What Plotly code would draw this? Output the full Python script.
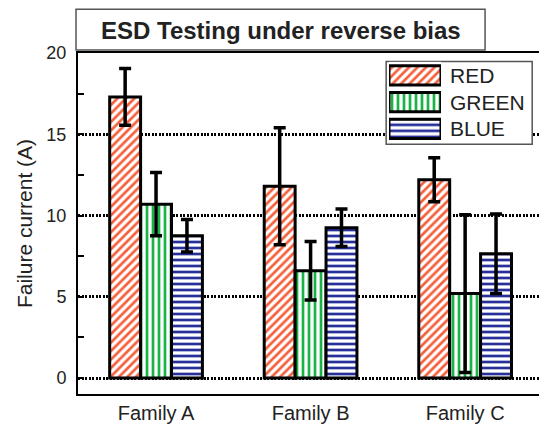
import plotly.graph_objects as go

# Failure current (A) under reverse-bias ESD stress, per LED family and colour
families = ["Family A", "Family B", "Family C"]
series = ["RED", "GREEN", "BLUE"]
red_mean = [17.3, 11.8, 12.2]
red_err = [1.75, 3.6, 1.35]
green_mean = [10.7, 6.6, 5.2]
green_err = [1.95, 1.8, 4.85]
blue_mean = [8.75, 9.25, 7.65]
blue_err = [1.0, 1.15, 2.45]

means = [red_mean, green_mean, blue_mean]
errs = [red_err, green_err, blue_err]
colors = ["#f4603c", "#19b446", "#27309a"]
shapes_pat = ["/", "|", "-"]
font = "Liberation Sans, Arial, sans-serif"
ink = "#222222"

fig = go.Figure()

for name, m, e, c, p in zip(series, means, errs, colors, shapes_pat):
    fig.add_trace(go.Bar(
        x=families, y=m, name=name, showlegend=False,
        marker=dict(color="white", line=dict(color="black", width=3),
                    pattern=dict(shape=p, fgcolor=c, bgcolor="white",
                                 size=6, solidity=0.45, fillmode="replace")),
        error_y=dict(type="data", array=e, visible=True, color="black",
                     thickness=3.5, width=6),
    ))

# legend swatches drawn as short horizontal bars on a small inset axis
for i, (name, c, p) in enumerate(zip(series, colors, shapes_pat)):
    fig.add_trace(go.Bar(
        x=[1], y=[i], base=[0], orientation="h", width=0.72,
        xaxis="x2", yaxis="y2", showlegend=False, hoverinfo="skip",
        marker=dict(color="white", line=dict(color="black", width=3),
                    pattern=dict(shape=p, fgcolor=c, bgcolor="white",
                                 size=6, solidity=0.45, fillmode="replace")),
    ))

fig.update_layout(
    width=539, height=424,
    margin=dict(l=78, r=0, t=53, b=27),
    paper_bgcolor="white", plot_bgcolor="white",
    barmode="group", bargap=0.4, bargroupgap=0,
    font=dict(family=font, color=ink),
    xaxis=dict(
        range=[-0.505, 2.478], showgrid=False, zeroline=False,
        showline=True, linecolor="black", linewidth=2, mirror=True,
        ticks="", tickfont=dict(size=20, color=ink),
    ),
    yaxis=dict(
        range=[-0.98, 20], tickvals=[0, 5, 10, 15, 20],
        showgrid=True, gridcolor="black", gridwidth=3, griddash="2px,1.5px",
        zeroline=False, showline=True, linecolor="black", linewidth=2,
        ticks="inside", ticklen=6, tickwidth=2, tickcolor="black",
        ticklabelstandoff=6,
        minor=dict(ticks="inside", ticklen=6, tickwidth=2, tickcolor="black",
                   tickvals=[2.5, 7.5, 12.5, 17.5], showgrid=False),
        tickfont=dict(size=18, color=ink),
        title=dict(text="Failure current (A)", font=dict(size=21, color=ink),
                   standoff=8),
    ),
    xaxis2=dict(domain=[0.6746, 0.7874], range=[0, 1], visible=False,
                anchor="y2", fixedrange=True),
    yaxis2=dict(domain=[0.738, 0.974], range=[2.5, -0.5], visible=False,
                anchor="x2", fixedrange=True),
)

# legend frame, painted over the grid but under the swatches
fig.add_shape(type="rect", xref="x", yref="y", layer="between",
              x0=1.489, x1=2.434, y0=14.39, y1=19.48,
              line=dict(color="#555555", width=1.5), fillcolor="white")

for i, name in enumerate(series):
    fig.add_annotation(
        xref="paper", yref="paper", x=0.8026, y=[0.9346, 0.8547, 0.7776][i],
        xanchor="left", yanchor="middle", showarrow=False,
        text=name, font=dict(size=21, color=ink, family=font),
    )

# boxed title above the plot
fig.add_shape(type="rect", xref="paper", yref="paper",
              x0=-0.0043, x1=0.883, y0=1.0087, y1=1.128,
              line=dict(color="#555555", width=1.5), fillcolor="white")
fig.add_annotation(
    xref="paper", yref="paper", x=0.4403, y=1.067,
    xanchor="center", yanchor="middle", showarrow=False,
    text="<b>ESD Testing under reverse bias</b>",
    font=dict(size=24, color=ink, family=font),
)

fig.write_html("out.html")
